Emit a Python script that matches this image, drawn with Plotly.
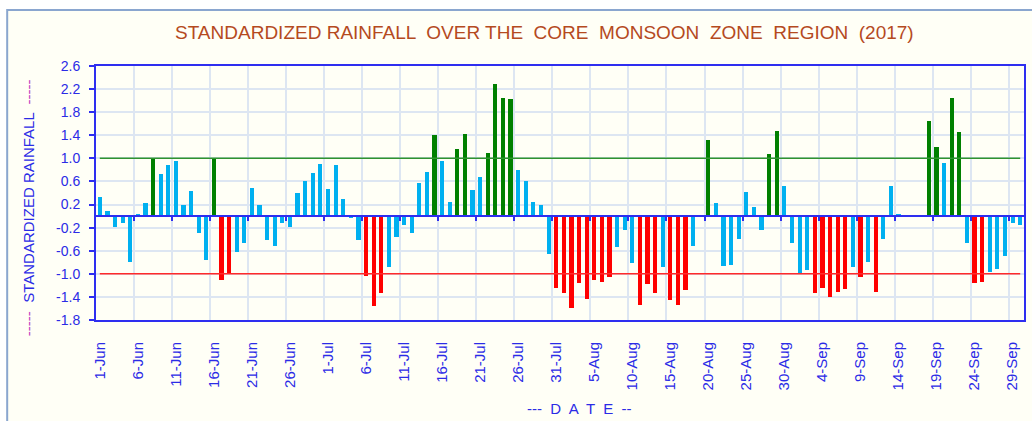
import pandas as pd
import plotly.graph_objects as go

# ---------------- data ----------------
dates = pd.date_range("2017-06-01", "2017-09-30", freq="D")
date_labels = [f"{d.day}-{d.strftime('%b')}" for d in dates]
day_index = list(range(1, len(dates) + 1))

rain_jun = [0.33, 0.08, -0.19, -0.12, -0.79, 0.03, 0.23, 1.01, 0.73, 0.88,
            0.95, 0.20, 0.43, -0.29, -0.76, 1.01, -1.11, -1.01, -0.62, -0.46,
            0.48, 0.19, -0.42, -0.51, -0.12, -0.19, 0.40, 0.61, 0.75, 0.91]
rain_jul = [0.47, 0.88, 0.30, -0.04, -0.41, -1.04, -1.56, -1.34, -0.88, -0.36,
            -0.16, -0.29, 0.58, 0.77, 1.40, 0.95, 0.25, 1.17, 1.42, 0.45,
            0.68, 1.10, 2.29, 2.05, 2.02, 0.80, 0.60, 0.25, 0.20, -0.66, -1.24]
rain_aug = [-1.34, -1.59, -1.16, -1.43, -1.11, -1.14, -1.06, -0.54, -0.24, -0.81,
            -1.54, -1.18, -1.34, -0.89, -1.46, -1.54, -1.28, -0.51, 0.0, 1.32,
            0.23, -0.87, -0.84, -0.39, 0.42, 0.16, -0.24, 1.08, 1.47, 0.53, -0.46]
rain_sep = [-0.98, -0.94, -1.34, -1.24, -1.41, -1.31, -1.26, -0.89, -1.06, -0.79,
            -1.31, -0.39, 0.53, 0.03, 0.0, 0.0, 0.0, 1.65, 1.20, 0.92,
            2.05, 1.45, -0.46, -1.16, -1.14, -0.96, -0.91, -0.69, -0.12, -0.16]
rainfall = rain_jun + rain_jul + rain_aug + rain_sep

upper_threshold = 1.0
lower_threshold = -1.0
y_tick_values = [-1.8, -1.4, -1.0, -0.6, -0.2, 0.2, 0.6, 1.0, 1.4, 1.8, 2.2, 2.6]
label_step = 5

# ---------------- styling ----------------
BLUE_BAR = "#00B0F0"
GREEN = "#008000"
RED = "#FF0000"
AXIS_BLUE = "#2E2EF0"
LABEL_BLUE = "#2B2BE6"
CREAM = "#FFFFF6"
GRID = "#DDE6F2"

bar_colors = [GREEN if v >= upper_threshold else RED if v <= lower_threshold else BLUE_BAR
              for v in rainfall]

fig = go.Figure()
fig.add_trace(go.Bar(x=day_index, y=rainfall, marker=dict(color=bar_colors, line=dict(width=0)),
                     width=0.55, showlegend=False, hoverinfo="x+y"))
fig.add_trace(go.Scatter(x=day_index, y=[upper_threshold] * len(day_index), mode="lines",
                         line=dict(color="#2F932F", width=1.5), showlegend=False,
                         xaxis="x2", hoverinfo="skip"))
fig.add_trace(go.Scatter(x=day_index, y=[lower_threshold] * len(day_index), mode="lines",
                         line=dict(color="#FF2A2A", width=1.5), showlegend=False,
                         xaxis="x2", hoverinfo="skip"))

xr = [0.5, len(day_index) + 0.5]
boundaries = [i + 0.5 for i in range(label_step, len(day_index), label_step)]
ymin, ymax = y_tick_values[0], y_tick_values[-1]
zero_pos = (0 - ymin) / (ymax - ymin)

fig.update_layout(
    width=1032, height=421,
    margin=dict(l=96, r=6, t=66, b=101),
    paper_bgcolor="white",
    plot_bgcolor=CREAM,
    bargap=0,
    xaxis=dict(
        range=xr, tickmode="array",
        tickvals=day_index[::label_step], ticktext=date_labels[::label_step],
        tickangle=-90, ticks="", showgrid=False,
        tickfont=dict(family="Arial, Liberation Sans, sans-serif", size=15, color=LABEL_BLUE),
        ticklabelstandoff=14,
        showline=True, mirror=True, linecolor=AXIS_BLUE, linewidth=2,
        minor=dict(tickvals=boundaries, showgrid=True, gridcolor=GRID, gridwidth=1.5, ticks=""),
        zeroline=False,
    ),
    xaxis2=dict(
        range=xr, overlaying="x", anchor="free", position=zero_pos,
        tickmode="array", tickvals=boundaries, ticks="outside", ticklen=4, tickwidth=2,
        tickcolor=AXIS_BLUE, showticklabels=False, showgrid=False,
        showline=True, linecolor=AXIS_BLUE, linewidth=2, zeroline=False,
    ),
    yaxis=dict(
        range=[ymin, ymax], tickmode="array", tickvals=y_tick_values,
        ticktext=[f"{v:.1f}" for v in y_tick_values],
        ticks="outside", ticklen=5, tickwidth=2, tickcolor=AXIS_BLUE,
        tickfont=dict(family="Arial, Liberation Sans, sans-serif", size=14, color=LABEL_BLUE),
        ticklabelstandoff=6,
        showgrid=True, gridcolor=GRID, gridwidth=1.5,
        showline=True, mirror=True, linecolor=AXIS_BLUE, linewidth=2,
        zeroline=False,
    ),
    shapes=[dict(type="rect", xref="paper", yref="paper",
                 x0=(7 - 96) / 930, x1=1.05, y0=-0.5, y1=1 + (66 - 10) / 254,
                 line=dict(color="#8AA6CF", width=2), fillcolor=CREAM, layer="below")],
    annotations=[
        dict(text="STANDARDIZED RAINFALL  OVER THE  CORE  MONSOON  ZONE  REGION  (2017)",
             xref="paper", yref="paper", x=(545 - 96) / 930, y=1 + (66 - 32) / 254,
             xanchor="center", yanchor="middle", showarrow=False,
             font=dict(family="Liberation Sans Narrow, Arial Narrow, Arial, sans-serif",
                       size=19, color="#B54A1E")),
        dict(text="<span style='color:#C040C0'>-----</span>  STANDARDIZED RAINFALL  "
                  "<span style='color:#C040C0'>-----</span>",
             xref="paper", yref="paper", x=(28 - 96) / 930, y=(320 - 208) / 254,
             textangle=-90, xanchor="center", yanchor="middle", showarrow=False,
             font=dict(family="Arial, Liberation Sans, sans-serif", size=15, color=LABEL_BLUE)),
        dict(text="---  D  A  T  E  --",
             xref="paper", yref="paper", x=(580 - 96) / 930, y=-(408 - 320) / 254,
             xanchor="center", yanchor="middle", showarrow=False,
             font=dict(family="Arial, Liberation Sans, sans-serif", size=15, color=LABEL_BLUE)),
    ],
)

fig.write_html("out.html", config={"displayModeBar": False},
               post_script="document.body.style.margin='0';document.body.style.overflow='hidden';")
